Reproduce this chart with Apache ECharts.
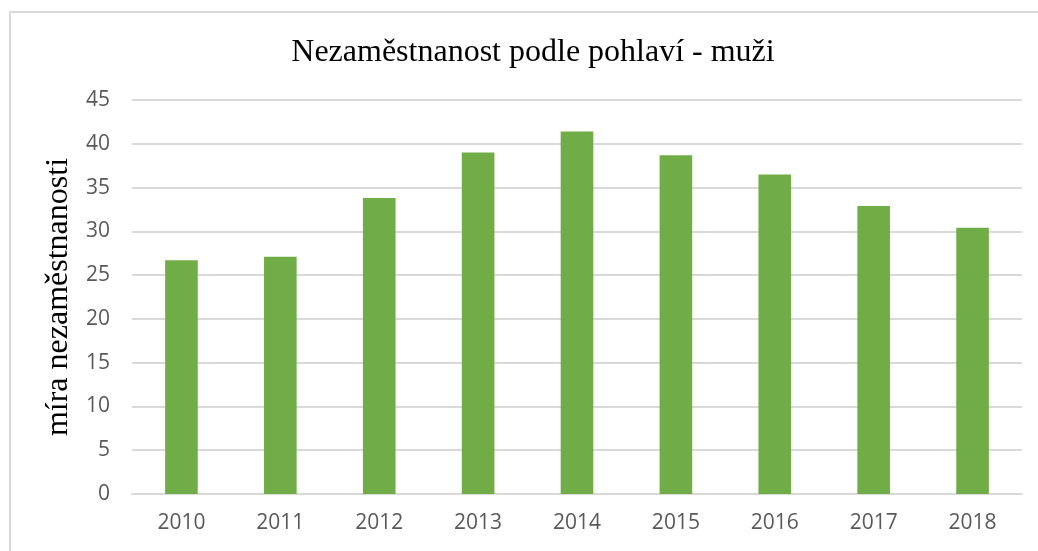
<!DOCTYPE html>
<html>
<head>
<meta charset="utf-8">
<script src="https://cdn.jsdelivr.net/npm/echarts@6/dist/echarts.min.js"></script>
<style>
  html, body { margin: 0; padding: 0; background: #fff; overflow: hidden; }
  #chart { width: 1038px; height: 551px; position: absolute; left: 0; top: 0; }
  .frame {
    position: absolute; left: 9px; top: 11px; width: 1100px; height: 600px;
    border: 2px solid #d9d9d9; pointer-events: none;
  }
</style>
</head>
<body>
<div id="chart"></div>
<div class="frame"></div>
<script>
const years = ['2010', '2011', '2012', '2013', '2014', '2015', '2016', '2017', '2018']
const rates = [26.7, 27.1, 33.8, 39.0, 41.4, 38.7, 36.5, 32.9, 30.4]

const chart = echarts.init(document.getElementById('chart'))

const labelColor = '#595959'
const gridColor = '#d9d9d9'

chart.setOption({
  animation: false,
  title: {
    text: 'Nezaměstnanost podle pohlaví - muži',
    left: 528,
    textAlign: 'center',
    top: 32,
    textStyle: {
      fontFamily: 'Liberation Serif',
      fontWeight: 'normal',
      fontSize: 32,
      color: '#000'
    }
  },
  grid: {
    left: 132,
    right: 16,
    top: 100,
    bottom: 57
  },
  xAxis: {
    type: 'category',
    data: years,
    axisLine: { lineStyle: { color: gridColor, width: 2 } },
    axisTick: { show: false },
    axisLabel: {
      color: labelColor,
      fontFamily: 'Open Sans',
      fontSize: 21,
      margin: 19
    }
  },
  yAxis: {
    type: 'value',
    min: 0,
    max: 45,
    interval: 5,
    name: 'míra nezaměstnanosti',
    nameLocation: 'middle',
    nameGap: 51,
    nameTextStyle: {
      fontFamily: 'Liberation Serif',
      fontSize: 32,
      color: '#000'
    },
    axisLine: { show: false },
    axisTick: { show: false },
    axisLabel: {
      color: labelColor,
      fontFamily: 'Open Sans',
      fontSize: 21,
      margin: 22
    },
    splitLine: { lineStyle: { color: gridColor, width: 2 } }
  },
  series: [
    {
      type: 'bar',
      data: rates,
      barWidth: '33%',
      itemStyle: { color: '#70ad47' }
    }
  ]
})
</script>
</body>
</html>
